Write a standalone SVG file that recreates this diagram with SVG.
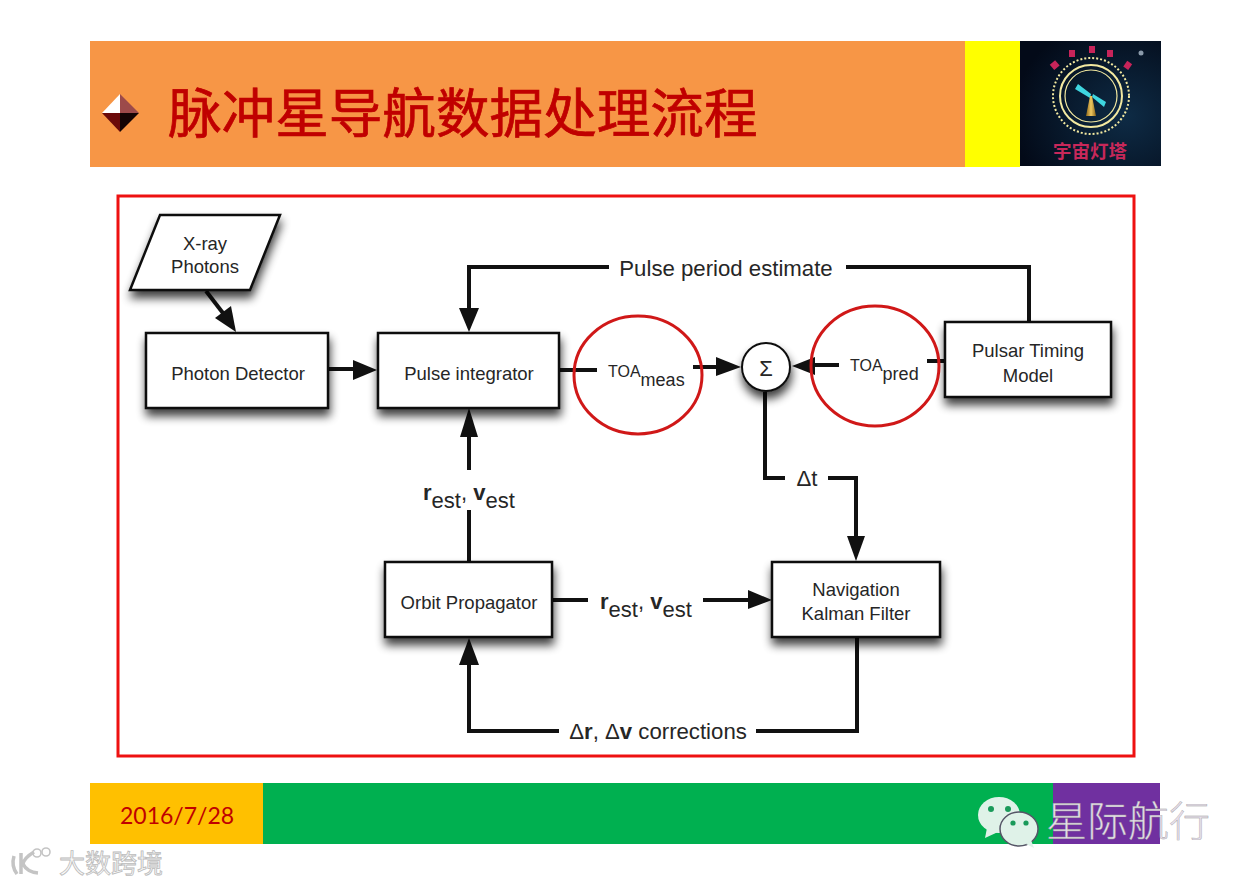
<svg xmlns="http://www.w3.org/2000/svg" width="1251" height="885" viewBox="0 0 1251 885">
<style>
text{font-family:"Liberation Sans",Arial,sans-serif;fill:#262626}
.cjk{font-family:"Noto Sans CJK SC",sans-serif}
.box{fill:#fff;stroke:#111;stroke-width:2.5}
.lbl{font-size:18.5px;text-anchor:middle}
.big{font-size:22.2px}
.wire{fill:none;stroke:#111;stroke-width:4}
.head{fill:#111}
.ring{fill:none;stroke:#d01818;stroke-width:3}
.b{font-weight:bold}
.pk{fill:#c8245a}
</style>
<defs>
<filter id="sh" x="-20%" y="-20%" width="140%" height="160%"><feGaussianBlur in="SourceAlpha" stdDeviation="5"/><feOffset dy="7" dx="1"/><feComponentTransfer><feFuncA type="linear" slope="0.75"/></feComponentTransfer><feMerge><feMergeNode/><feMergeNode in="SourceGraphic"/></feMerge></filter>
<radialGradient id="sky" cx="0.75" cy="0.6" r="0.8"><stop offset="0" stop-color="#0e2b45"/><stop offset="1" stop-color="#030a18"/></radialGradient>
<linearGradient id="tower" x1="0" x2="1" y1="0" y2="0"><stop offset="0" stop-color="#8a6418"/><stop offset=".5" stop-color="#f0c860"/><stop offset="1" stop-color="#8a6418"/></linearGradient>
</defs>
<rect width="1251" height="885" fill="#fff"/>
<g id="header">
<rect x="90" y="41" width="875" height="126" fill="#f79646"/>
<rect x="965" y="41" width="55" height="126" fill="#ffff00"/>
<polygon points="120,94 120,113 102,113" fill="#fff"/>
<polygon points="120,94 139,113 120,113" fill="#9c4a4a"/>
<polygon points="102,113 120,113 120,132" fill="#6b0a0a"/>
<polygon points="120,113 139,113 120,132" fill="#140404"/>
<text class="cjk" x="168" y="133" font-size="53.6" style="fill:#c00000;stroke:#c00000;stroke-width:.7">脉冲星导航数据处理流程</text>
</g>
<g id="logo">
<rect x="1020" y="41" width="141" height="125" fill="url(#sky)"/>
<circle cx="1141" cy="53" r="2.5" fill="#8a9aaa"/>
<circle cx="1091" cy="96" r="38" fill="none" stroke="#f3e9a0" stroke-width="2" stroke-dasharray="2 2"/>
<circle cx="1091" cy="96" r="31" fill="none" stroke="#f3e9a0" stroke-width="2"/>
<circle cx="1091" cy="96" r="26" fill="none" stroke="#f3e9a0" stroke-width="1.2"/>
<polygon points="1075,89 1078,84 1091,94 1090,98" fill="#3fd6e0"/>
<polygon points="1092,97 1093,94 1106,102 1104,107" fill="#3fd6e0"/>
<polygon points="1090,96 1092,96 1096,116 1086,116" fill="url(#tower)"/>
<rect class="pk" x="1051" y="62" width="7" height="7" transform="rotate(-40 1054 65)"/>
<rect class="pk" x="1069" y="50" width="6" height="7"/>
<rect class="pk" x="1089" y="46" width="6" height="7"/>
<rect class="pk" x="1107" y="50" width="6" height="7"/>
<rect class="pk" x="1125" y="62" width="6" height="7" transform="rotate(35 1128 65)"/>
<text class="cjk" x="1090" y="158" font-size="18.5" font-weight="700" text-anchor="middle" style="fill:#c8285a">宇宙灯塔</text>
</g>
<rect id="frame" x="118" y="196" width="1016" height="560" fill="none" stroke="#ee1111" stroke-width="3"/>
<g id="connectors">
<path class="wire" d="M206,291 L226,317"/>
<polygon class="head" points="236,332 215,318 231,306"/>
<path class="wire" d="M328,369 H355"/>
<polygon class="head" points="377,370 353,360 353,380"/>
<path class="wire" d="M609,267 H469 V310"/>
<polygon class="head" points="469,332 459,308 479,308"/>
<path class="wire" d="M846,267 H1029 V322"/>
<path class="wire" d="M559,370 H597"/>
<path class="wire" d="M693,367 H720"/>
<polygon class="head" points="741,367 716,357 716,376"/>
<path class="wire" d="M839,365 H812"/>
<polygon class="head" points="792,366 815,357 815,375"/>
<path class="wire" d="M927,361 H945"/>
<path class="wire" d="M765,392 V478 H785"/>
<path class="wire" d="M828,478 H856 V538"/>
<polygon class="head" points="856,561 847,536 865,536"/>
<path class="wire" d="M469,510 V562"/>
<polygon class="head" points="469,408 460,437 478,437"/>
<path class="wire" d="M469,434 V470"/>
<path class="wire" d="M552,600 H588"/>
<path class="wire" d="M703,600 H750"/>
<polygon class="head" points="772,600 748,590 748,609"/>
<path class="wire" d="M857,637 V731 H756"/>
<path class="wire" d="M559,731 H469 V662"/>
<polygon class="head" points="469,638 459,665 479,665"/>
</g>
<g id="xray"><polygon class="box" points="160,215 280,215 250,290 130,290" filter="url(#sh)"/><text class="lbl" x="205" y="250">X-ray</text><text class="lbl" x="205" y="273">Photons</text></g>
<g id="photon-detector"><rect class="box" x="146" y="333" width="182" height="75" filter="url(#sh)"/><text class="lbl" x="238" y="380">Photon Detector</text></g>
<g id="pulse-integrator"><rect class="box" x="378" y="333" width="181" height="75" filter="url(#sh)"/><text class="lbl" x="469" y="380">Pulse integrator</text></g>
<g id="orbit-propagator"><rect class="box" x="385" y="562" width="167" height="75" filter="url(#sh)"/><text class="lbl" x="469" y="609">Orbit Propagator</text></g>
<g id="kalman"><rect class="box" x="772" y="562" width="168" height="75" filter="url(#sh)"/><text class="lbl" x="856" y="596">Navigation</text><text class="lbl" x="856" y="620">Kalman Filter</text></g>
<g id="pulsar-model"><rect class="box" x="945" y="322" width="166" height="75" filter="url(#sh)"/><text class="lbl" x="1028" y="357">Pulsar Timing</text><text class="lbl" x="1028" y="382">Model</text></g>
<g id="sum"><circle cx="766" cy="367" r="24" fill="#fff" stroke="#111" stroke-width="2" filter="url(#sh)"/><text class="lbl" x="766" y="376" style="font-size:22px">Σ</text></g>
<g id="labels">
<text class="lbl big" x="726" y="276">Pulse period estimate</text>
<text class="lbl big" x="807" y="486">Δt</text>
<text x="423" y="500" font-size="22"><tspan class="b">r</tspan><tspan dy="8">est</tspan><tspan dy="-8">, </tspan><tspan class="b">v</tspan><tspan dy="8">est</tspan></text>
<text x="600" y="609" font-size="22"><tspan class="b">r</tspan><tspan dy="8">est</tspan><tspan dy="-8">, </tspan><tspan class="b">v</tspan><tspan dy="8">est</tspan></text>
<text class="lbl big" x="658" y="739">Δ<tspan class="b">r</tspan>, Δ<tspan class="b">v</tspan> corrections</text>
<text x="608" y="377" font-size="16">TOA<tspan dy="9" font-size="18">meas</tspan></text>
<text x="850" y="371" font-size="16">TOA<tspan dy="9" font-size="18">pred</tspan></text>
</g>
<ellipse class="ring" cx="638" cy="375" rx="64" ry="59"/>
<ellipse class="ring" cx="875" cy="366" rx="64" ry="60"/>
<g id="footer">
<rect x="90" y="783" width="173" height="61" fill="#ffc000"/>
<rect x="263" y="783" width="790" height="61" fill="#00b050"/>
<rect x="1053" y="783" width="107" height="61" fill="#7030a0"/>
<text x="120" y="824" font-size="23" style="font-family:Lato,sans-serif;fill:#c00000">2016/7/28</text>
</g>
<g id="wechat">
<ellipse cx="999" cy="815" rx="21" ry="18" fill="#dff2e8"/><polygon points="987,828 985,838 998,832" fill="#dff2e8"/>
<circle cx="991" cy="809" r="3" fill="#1a9a5a"/><circle cx="1008" cy="809" r="3" fill="#1a9a5a"/>
<ellipse cx="1019" cy="829" rx="19" ry="17" fill="#dff2e8" stroke="#556" stroke-width="1.5"/><polygon points="1026,844 1034,848 1031,840" fill="#dff2e8"/>
<circle cx="1013" cy="823" r="2.6" fill="#1a9a5a"/><circle cx="1026" cy="823" r="2.6" fill="#1a9a5a"/>
<text class="cjk" x="1046" y="836" font-size="41" font-weight="300" style="fill:#e8e0ec;stroke:#999;stroke-width:.4">星际航行</text>
</g>
<g id="watermark">
<path d="M14,856 Q11,866 17,874 M21,853 V874 M34,852 Q24,858 23,864 Q27,872 38,873" fill="none" stroke="#c4c4c4" stroke-width="3.5"/>
<circle cx="37" cy="853" r="4" fill="none" stroke="#c4c4c4" stroke-width="1.6"/>
<circle cx="46" cy="852" r="4" fill="none" stroke="#c4c4c4" stroke-width="1.6"/>
<text class="cjk" x="59" y="873" font-size="26" style="fill:#f8f8f8;stroke:#bbb;stroke-width:.8">大数跨境</text>
</g>
</svg>
